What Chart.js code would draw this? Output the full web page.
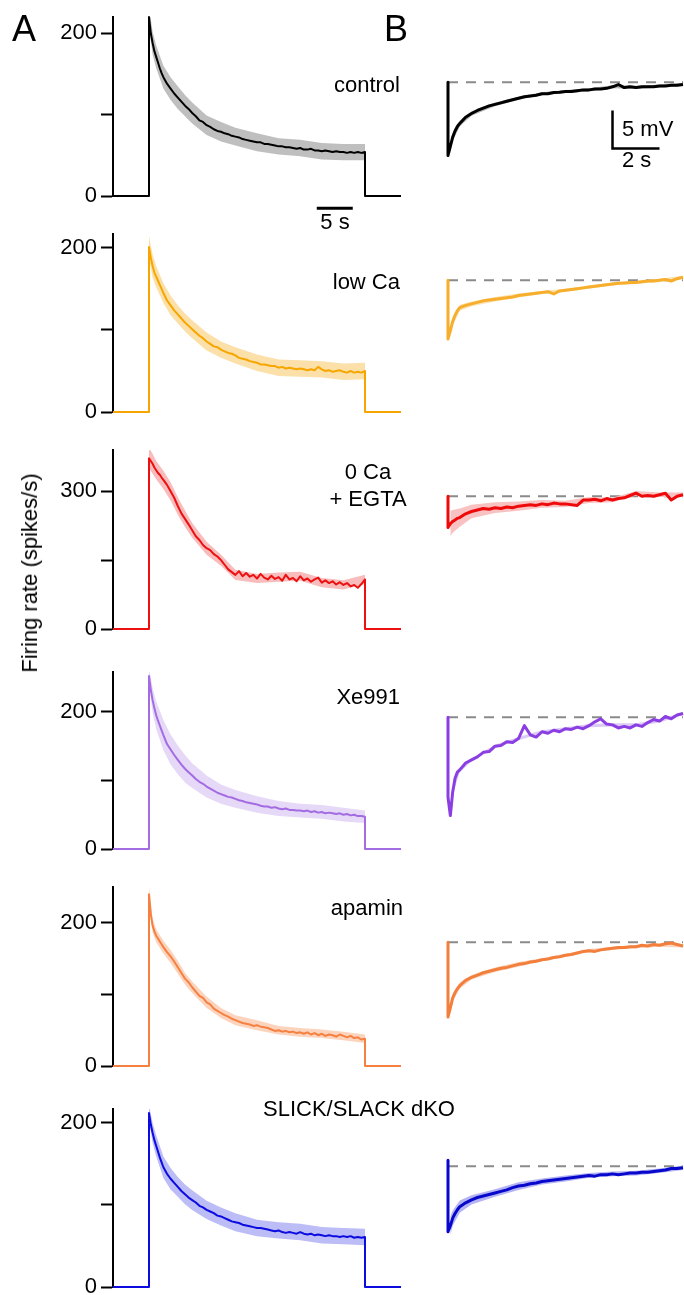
<!DOCTYPE html>
<html>
<head>
<meta charset="utf-8">
<script src="https://cdn.jsdelivr.net/npm/chart.js@4.4.1/dist/chart.umd.min.js"></script>
<style>
  html, body { margin: 0; padding: 0; background: #fff; width: 684px; height: 1295px; overflow: hidden; position: relative; }
  body { font-family: "Liberation Sans", Arial, sans-serif; }
  canvas { position: absolute; }
  .t { position: absolute; white-space: nowrap; line-height: 1; color: #000; }
</style>
</head>
<body>
<script>
// ---- A: firing rate during a 30 s step (time in s, rate in spikes/s) ----
const stimTimes = [0, 0.25, 0.5, 0.75, 1, 1.25, 1.5, 1.75, 2,
  2.5, 3, 3.5, 4, 4.5, 5, 5.5, 6, 6.5, 7,
  7.5, 8, 8.5, 9, 9.5, 10, 10.5, 11, 11.5, 12,
  12.5, 13, 13.5, 14, 14.5, 15, 15.5, 16, 16.5, 17,
  17.5, 18, 18.5, 19, 19.5, 20, 20.5, 21, 21.5, 22,
  22.5, 23, 23.5, 24, 24.5, 25, 25.5, 26, 26.5, 27,
  27.5, 28, 28.5, 29, 29.5, 30];
const bandTimes = [0, 0.5, 1, 2, 3, 4, 5, 6, 8, 10, 12, 15, 18, 21, 24, 27, 30];

const controlRate = [220, 200, 188, 178, 171, 164, 157, 151, 146,
  138, 132, 126, 121, 116, 111, 107, 102, 98, 93,
  91, 87, 85, 82, 80, 79, 77, 76, 74, 73,
  72, 70, 69, 68, 67, 66, 66, 64, 64, 63,
  62, 61, 61, 60, 60, 59, 58, 59, 57, 57,
  58, 56, 56, 55, 56, 55, 54, 55, 54, 54,
  53, 54, 53, 54, 53, 54];
const lowCaRate = [201, 188, 178, 170, 165, 160, 155, 150, 145,
  136, 130, 124, 119, 114, 109, 105, 101, 97, 93,
  90, 86, 83, 80, 79, 76, 74, 72, 71, 69,
  66, 65, 64, 62, 61, 60, 58, 58, 57, 56,
  56, 54, 55, 53, 54, 53, 52, 53, 52, 51,
  52, 51, 55, 52, 50, 51, 49, 50, 51, 49,
  48, 50, 48, 49, 48, 50];
const zeroCaRate = [372, 366, 360, 352, 346, 340, 336, 330, 325,
  314, 300, 286, 268, 252, 240, 228, 215, 202, 194,
  183, 176, 172, 163, 158, 150, 140, 130, 124, 118,
  126, 115, 122, 114, 118, 110, 120, 112, 108, 116,
  109, 113, 105, 118, 108, 111, 104, 115, 106, 110,
  103, 108, 112, 101, 106, 100, 104, 97, 102, 96,
  100, 93, 96, 90, 98, 108];
const xe991Rate = [252, 232, 217, 205, 195, 187, 180, 173, 166,
  153, 145, 137, 130, 123, 117, 112, 107, 102, 98,
  95, 91, 88, 85, 82, 80, 78, 76, 75, 73,
  71, 70, 68, 67, 66, 65, 63, 62, 62, 60,
  61, 59, 58, 59, 57, 57, 56, 56, 55, 56,
  54, 55, 53, 54, 52, 53, 52, 51, 52, 50,
  51, 49, 50, 48, 48, 47];
const apaminRate = [240, 212, 196, 188, 182, 178, 174, 170, 166,
  159, 153, 146, 138, 130, 122, 117, 110, 104, 98,
  95, 89, 86, 80, 77, 74, 71, 69, 66, 64,
  62, 60, 59, 58, 56, 57, 55, 54, 53, 51,
  49, 50, 48, 49, 47, 48, 46, 47, 45, 47,
  44, 46, 43, 45, 42, 44, 43, 41, 44, 42,
  40, 42, 39, 40, 37, 38];
const dkoRate = [212, 198, 188, 179, 172, 165, 158, 152, 146,
  138, 132, 127, 122, 117, 113, 109, 106, 103, 99,
  97, 94, 92, 90, 87, 86, 84, 82, 80, 79,
  78, 76, 75, 74, 73, 72, 72, 71, 70, 69,
  68, 69, 67, 66, 67, 66, 65, 67, 65, 64,
  65, 63, 64, 63, 62, 63, 62, 62, 61, 62,
  61, 62, 60, 61, 60, 61];

const controlSd = [12, 14, 14, 14, 14, 14, 13, 13, 12, 12, 11, 11, 10, 10, 10, 10, 10];
const lowCaSd   = [14, 14, 13, 12, 12, 11, 11, 11, 11, 10, 10, 10, 10, 10, 10, 10, 10];
const zeroCaSd  = [22, 22, 20, 20, 20, 19, 18, 16, 14, 12, 11, 10, 10, 10, 10, 10, 10];
const xe991Sd   = [12, 18, 20, 22, 22, 21, 20, 18, 16, 14, 13, 12, 11, 10, 10, 10, 9];
const apaminSd  = [10, 10, 9, 9, 9, 9, 8, 8, 8, 7, 7, 7, 6, 6, 6, 6, 6];
const dkoSd     = [10, 12, 13, 13, 13, 12, 12, 12, 11, 11, 11, 10, 10, 10, 10, 10, 10];

// ---- B: membrane potential after the step (time in s, mV from baseline) ----
const vmTimes = [0, 0, 0.1, 0.2, 0.3, 0.4, 0.5,
  0.75, 1, 1.25, 1.5, 1.75, 2, 2.25, 2.5, 2.75, 3,
  3.25, 3.5, 3.75, 4, 4.25, 4.5, 4.75, 5, 5.25, 5.5,
  5.75, 6, 6.25, 6.5, 6.75, 7, 7.25, 7.5, 7.75, 8,
  8.25, 8.5, 8.75, 9, 9.25, 9.5, 9.75, 10];
const vmBandTimes = [0.1, 0.2, 0.5, 1, 2, 3, 4, 5, 6, 7, 8, 9, 10];

const controlVm = [0, -9.6, -8.4, -7.2, -6.4, -5.8, -5.4,
  -4.6, -4.1, -3.7, -3.4, -3.1, -2.9, -2.7, -2.5, -2.3, -2.1,
  -1.9, -1.8, -1.7, -1.5, -1.5, -1.35, -1.3, -1.2, -1.2, -1.1,
  -1.0, -1.0, -0.9, -0.9, -0.8, -0.6, -0.3, -0.7, -0.6, -0.7,
  -0.6, -0.6, -0.6, -0.5, -0.5, -0.4, -0.4, -0.3];
const lowCaVm = [0, -7.7, -6.6, -5.4, -4.6, -4.0, -3.6,
  -3.3, -3.1, -2.9, -2.7, -2.6, -2.5, -2.4, -2.3, -2.2, -2.0,
  -1.9, -1.8, -1.7, -1.6, -1.5, -1.8, -1.4, -1.3, -1.2, -1.1,
  -1.0, -0.9, -0.8, -0.7, -0.6, -0.5, -0.4, -0.35, -0.3, -0.3,
  -0.2, -0.1, -0.1, 0, 0.1, -0.1, 0.2, 0.4];
const zeroCaVm = [0, -4.1, -3.6, -3.3, -3.1, -2.9, -2.8,
  -2.3, -2.0, -1.8, -1.6, -1.7, -1.5, -1.6, -1.4, -1.5, -1.3,
  -1.2, -1.1, -1.2, -1.0, -1.1, -0.9, -1.0, -1.0, -1.1, -1.2,
  -0.5, -0.5, -0.4, -0.6, -0.3, -0.5, -0.3, -0.2, 0.1, 0.4,
  0.0, 0.1, 0.0, 0.2, 0.4, -0.5, 0.0, 0.2];
const xe991Vm = [0, -10.5, -12.9, -9.8, -8.0, -7.2, -6.9,
  -6.0, -5.6, -5.2, -4.6, -4.5, -3.8, -3.7, -3.2, -3.3, -2.8,
  -1.1, -2.3, -2.6, -1.9, -2.1, -1.7, -1.9, -1.5, -1.6, -1.3,
  -1.5, -1.1, -0.6, -0.2, -0.9, -1.0, -1.4, -1.2, -1.4, -1.0,
  -1.2, -0.7, -0.3, -0.5, 0.1, -0.2, 0.3, 0.5];
const apaminVm = [0, -9.8, -8.6, -7.3, -6.6, -6.1, -5.7,
  -5.0, -4.6, -4.3, -4.0, -3.8, -3.6, -3.4, -3.3, -3.1, -2.9,
  -2.8, -2.6, -2.5, -2.3, -2.2, -2.0, -1.9, -1.7, -1.6, -1.4,
  -1.2, -1.1, -1.2, -1.0, -0.9, -0.8, -0.7, -0.7, -0.6, -0.6,
  -0.4, -0.5, -0.3, -0.4, -0.2, -0.1, -0.3, -0.5];
const dkoVm = [0.8, -8.6, -7.8, -6.8, -6.2, -5.7, -5.3,
  -4.8, -4.4, -4.1, -3.9, -3.7, -3.5, -3.3, -3.1, -2.8, -2.6,
  -2.5, -2.3, -2.2, -2.0, -1.9, -1.8, -1.7, -1.6, -1.5, -1.4,
  -1.3, -1.2, -1.3, -1.1, -1.1, -1.0, -1.1, -1.0, -0.9, -0.9,
  -0.8, -0.8, -0.7, -0.6, -0.5, -0.3, -0.3, -0.2];

const controlVmSd = [0.6, 0.5, 0.4, 0.3, 0.25, 0.2, 0.2, 0.2, 0.2, 0.2, 0.2, 0.2, 0.2];
const lowCaVmSd   = [0.8, 0.6, 0.4, 0.3, 0.3, 0.25, 0.2, 0.2, 0.2, 0.2, 0.2, 0.2, 0.2];
const zeroCaVmSd  = [1.7, 1.5, 1.2, 0.9, 0.7, 0.6, 0.5, 0.4, 0.4, 0.3, 0.3, 0.3, 0.3];
const xe991VmSd   = [0.4, 0.3, 0.3, 0.2, 0.2, 0.2, 0.2, 0.2, 0.2, 0.2, 0.2, 0.2, 0.2];
const apaminVmSd  = [0.6, 0.5, 0.4, 0.3, 0.3, 0.3, 0.2, 0.2, 0.2, 0.2, 0.2, 0.2, 0.2];
const dkoVmSd     = [1.2, 1.0, 0.8, 0.6, 0.5, 0.5, 0.4, 0.4, 0.3, 0.3, 0.3, 0.3, 0.3];

// scale bars, in data units
const timeBarA = [[23.3, -15], [28.3, -15]];           // 5 s
const scaleBarB = [[7, -3.7], [7, -8.7], [9, -8.7]];   // 5 mV, 2 s

const FONT = '"Liberation Sans", Arial, sans-serif';
Chart.defaults.font.family = FONT;
Chart.defaults.color = '#000';

const panelsA = [
  { rate: controlRate, sd: controlSd, line: '#000000', band: '#bfbfbf', zeroY: 196,  topY: 17,   max: 220, ticks: [0, 100, 200], bar: true },
  { rate: lowCaRate,   sd: lowCaSd,   line: '#f7a600', band: '#fbe0aa', zeroY: 412,  topY: 234,  max: 217, ticks: [0, 100, 200] },
  { rate: zeroCaRate,  sd: zeroCaSd,  line: '#ec1010', band: '#f8bcbc', zeroY: 629,  topY: 450,  max: 390, ticks: [0, 150, 300] },
  { rate: xe991Rate,   sd: xe991Sd,   line: '#a36ce2', band: '#e6d8f7', zeroY: 849,  topY: 672,  max: 258, ticks: [0, 100, 200] },
  { rate: apaminRate,  sd: apaminSd,  line: '#f5803f', band: '#fcd4be', zeroY: 1066, topY: 887,  max: 250, ticks: [0, 100, 200] },
  { rate: dkoRate,     sd: dkoSd,     line: '#0c0ce0', band: '#bcbcf6', zeroY: 1287, topY: 1109, max: 217, ticks: [0, 100, 200] },
];

const panelsB = [
  { vm: controlVm, sd: controlVmSd, line: '#000000', band: '#b8b8b8', baseY: 82,   bar: true },
  { vm: lowCaVm,   sd: lowCaVmSd,   line: '#f6ae2c', band: '#fbe2b4', baseY: 280 },
  { vm: zeroCaVm,  sd: zeroCaVmSd,  line: '#ee0a0a', band: '#f9c2c2', baseY: 496 },
  { vm: xe991Vm,   sd: xe991VmSd,   line: '#8b3fe3', band: '#dccaf6', baseY: 717 },
  { vm: apaminVm,  sd: apaminVmSd,  line: '#f27f3c', band: '#fcd3bd', baseY: 942 },
  { vm: dkoVm,     sd: dkoVmSd,     line: '#0808cc', band: '#b4b4f2', baseY: 1166 },
];

function makeCanvas(left, top, w, h) {
  const c = document.createElement('canvas');
  c.width = w; c.height = h;
  c.style.left = left + 'px'; c.style.top = top + 'px';
  c.style.width = w + 'px'; c.style.height = h + 'px';
  document.body.appendChild(c);
  return c;
}

function rateChart(p) {
  const pad = 20, axisX = 113, rightX = 401;
  const ctx = makeCanvas(0, p.topY - pad, rightX + 10, p.zeroY - p.topY + 2 * pad);

  const trace = [{ x: -5, y: 0 }, { x: 0, y: 0 }]
    .concat(stimTimes.map((t, i) => ({ x: t, y: p.rate[i] })))
    .concat([{ x: 30, y: 0 }, { x: 35, y: 0 }]);
  const lower = bandTimes.map((t, i) => ({ x: t, y: p.rate[stimTimes.indexOf(t)] - p.sd[i] }));
  const upper = bandTimes.map((t, i) => ({ x: t, y: p.rate[stimTimes.indexOf(t)] + p.sd[i] }));

  const datasets = [
    { data: trace, borderColor: p.line, borderWidth: 2, fill: false, clip: false },
    { data: lower, borderColor: 'transparent', borderWidth: 0, fill: false },
    { data: upper, borderColor: 'transparent', borderWidth: 0, backgroundColor: p.band, fill: 1 },
  ];
  if (p.bar) {
    datasets.push({ data: timeBarA.map(([x, y]) => ({ x, y })), borderColor: '#000', borderWidth: 3, fill: false, clip: false, borderCapStyle: 'butt' });
  }

  new Chart(ctx, {
    type: 'line',
    data: { datasets },
    options: {
      responsive: false, animation: false,
      layout: { padding: { left: 0, right: 10, top: pad, bottom: pad } },
      elements: { point: { radius: 0 }, line: { tension: 0, borderJoinStyle: 'round' } },
      plugins: { legend: { display: false }, tooltip: { enabled: false } },
      scales: {
        x: { type: 'linear', min: -5, max: 35, display: false },
        y: {
          type: 'linear', position: 'left', min: 0, max: p.max,
          afterFit: s => { s.width = axisX; },
          afterBuildTicks: s => { s.ticks = p.ticks.map(v => ({ value: v })); },
          ticks: {
            padding: 4, font: { size: 22 }, color: '#000',
            callback: v => (v === p.ticks[0] || v === p.ticks[2]) ? String(v) : ''
          },
          grid: { drawOnChartArea: false, drawTicks: true, tickLength: 12, tickWidth: 2, tickColor: '#000', color: '#000' },
          border: { display: true, color: '#000', width: 2 }
        }
      }
    }
  });
}

function vmChart(p) {
  const pad = 10, x0 = 448, x1 = 683, pxPerMv = 7.6, vMax = 2, vMin = -14;
  const h = Math.round((vMax - vMin) * pxPerMv);
  const ctx = makeCanvas(x0 - pad, Math.round(p.baseY - vMax * pxPerMv - pad), x1 - x0 + 2 * pad, h + 2 * pad);

  const trace = vmTimes.map((t, i) => ({ x: t, y: p.vm[i] }));
  const lower = vmBandTimes.map((t, i) => ({ x: t, y: p.vm[vmTimes.indexOf(t, 2)] - p.sd[i] }));
  const upper = vmBandTimes.map((t, i) => ({ x: t, y: p.vm[vmTimes.indexOf(t, 2)] + p.sd[i] }));

  const datasets = [
    { data: trace, borderColor: p.line, borderWidth: 3, fill: false, clip: false },
    { data: lower, borderColor: 'transparent', borderWidth: 0, fill: false },
    { data: upper, borderColor: 'transparent', borderWidth: 0, backgroundColor: p.band, fill: 1 },
    { data: [{ x: 0, y: 0 }, { x: 10, y: 0 }], borderColor: '#8a8a8a', borderWidth: 2, borderDash: [10, 8], fill: false, clip: false },
  ];
  if (p.bar) {
    datasets.push({ data: scaleBarB.map(([x, y]) => ({ x, y })), borderColor: '#000', borderWidth: 2.5, fill: false, clip: false, borderJoinStyle: 'miter' });
  }

  new Chart(ctx, {
    type: 'line',
    data: { datasets },
    options: {
      responsive: false, animation: false,
      layout: { padding: pad },
      elements: { point: { radius: 0 }, line: { tension: 0, borderJoinStyle: 'round' } },
      plugins: { legend: { display: false }, tooltip: { enabled: false } },
      scales: {
        x: { type: 'linear', min: 0, max: 10, display: false },
        y: { type: 'linear', min: vMin, max: vMax, display: false }
      }
    }
  });
}

panelsA.forEach(rateChart);
panelsB.forEach(vmChart);

// text: [content, x, baseline, align, size]
const texts = [
  ['A', 12, 41, 'left', 36],
  ['B', 384, 41, 'left', 36],
  ['control', 400, 93, 'right', 22],
  ['5 s', 335, 230, 'center', 22],
  ['5 mV', 622, 137, 'left', 22],
  ['2 s', 622, 168, 'left', 22],
  ['low Ca', 400, 290, 'right', 22],
  ['0 Ca', 368, 480, 'center', 22],
  ['+ EGTA', 368, 507, 'center', 22],
  ['Xe991', 400, 705, 'right', 22],
  ['apamin', 403, 916, 'right', 22],
  ['SLICK/SLACK dKO', 263, 1117, 'left', 22],
];
texts.forEach(([s, x, base, align, size]) => {
  const d = document.createElement('div');
  d.className = 't';
  d.textContent = s;
  d.style.fontSize = size + 'px';
  d.style.left = x + 'px';
  d.style.top = (base - 0.8465 * size) + 'px';
  if (align === 'right') d.style.transform = 'translateX(-100%)';
  if (align === 'center') d.style.transform = 'translateX(-50%)';
  document.body.appendChild(d);
});

const yTitle = document.createElement('div');
yTitle.className = 't';
yTitle.textContent = 'Firing rate (spikes/s)';
yTitle.style.fontSize = '22px';
yTitle.style.left = '30px';
yTitle.style.top = '573px';
yTitle.style.transform = 'translate(-50%, -50%) rotate(-90deg)';
document.body.appendChild(yTitle);
</script>
</body>
</html>
